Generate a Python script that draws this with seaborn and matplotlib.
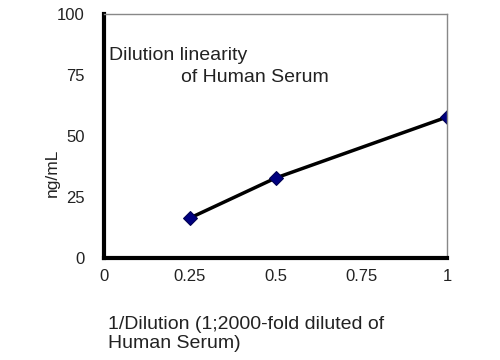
import matplotlib
matplotlib.use("Agg")
import matplotlib.pyplot as plt
import seaborn as sns
import pandas as pd

# values
dilution = [0.25, 0.5, 1.0]
conc = [16.4, 32.8, 57.8]
x_ticks = [0, 0.25, 0.5, 0.75, 1]
x_labels = ["0", "0.25", "0.5", "0.75", "1"]
y_ticks = [0, 25, 50, 75, 100]

sns.set_style("white")
plt.rcParams['font.family'] = ['Liberation Sans', 'DejaVu Sans']

df = pd.DataFrame({"dilution": dilution, "conc": conc})

fig = plt.figure(figsize=(5, 3.6), dpi=100)
ax = fig.add_axes([0.208, 0.283, 0.686, 0.678])

sns.lineplot(data=df, x="dilution", y="conc", ax=ax, color="black", linewidth=2.5,
             marker="D", markersize=7, markerfacecolor="#000080", markeredgecolor="#000050")

ax.set_xlim(0, 1)
ax.set_ylim(0, 100)
ax.set_xticks(x_ticks)
ax.set_xticklabels(x_labels)
ax.set_yticks(y_ticks)
ax.tick_params(axis="both", length=0, labelsize=12, colors="#222222")
ax.tick_params(axis="x", pad=8)
ax.tick_params(axis="y", pad=14)

for side in ["left", "bottom"]:
    ax.spines[side].set_linewidth(3)
    ax.spines[side].set_color("black")
for side in ["top", "right"]:
    ax.spines[side].set_linewidth(1)
    ax.spines[side].set_color("#888888")

ax.set_xlabel("")
ax.set_ylabel("")
fig.text(0.104, 0.52, "ng/mL", rotation=90, fontsize=12.5, ha="center", va="center",
         color="#222222")
fig.text(0.216, 0.072, "1/Dilution (1;2000-fold diluted of\nHuman Serum)", fontsize=14,
         ha="left", va="center", linespacing=1.2, color="#222222")

ax.text(0.015, 0.832, "Dilution linearity", transform=ax.transAxes, fontsize=14,
        ha="left", va="center", color="#222222")
ax.text(0.224, 0.742, "of Human Serum", transform=ax.transAxes, fontsize=14,
        ha="left", va="center", color="#222222")

plt.savefig("out.png", dpi=100)
